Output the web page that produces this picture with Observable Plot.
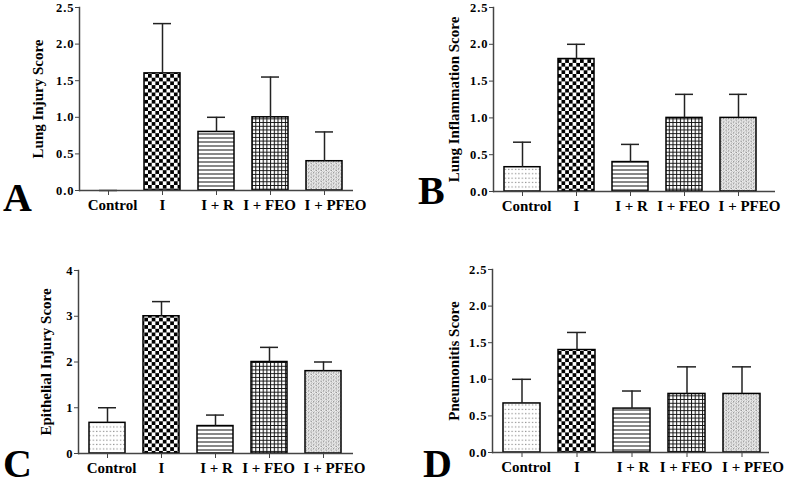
<!DOCTYPE html>
<html>
<head>
<meta charset="utf-8">
<script src="https://cdn.jsdelivr.net/npm/d3@7"></script>
<script src="https://cdn.jsdelivr.net/npm/@observablehq/plot@0.6"></script>
<style>
  body { margin: 0; background: #fff; width: 790px; height: 487px; position: relative; overflow: hidden; }
  .panel { position: absolute; }
  .letter { position: absolute; font: bold 40px/30px "Liberation Serif", "Times New Roman", serif; color: #000; height: 30px; }
  g[aria-label="y-axis tick label"] text { letter-spacing: 1px; }
  g[aria-label="y-axis label"], g[aria-label="y-axis label"] text { font-size: 15px; }
</style>
</head>
<body>
<svg width="0" height="0" style="position:absolute">
  <defs>
    <pattern id="pDots" patternUnits="userSpaceOnUse" width="3.4" height="4.4">
      <rect width="3.4" height="4.4" fill="#fff"/>
      <rect x="1" y="1.6" width="1.1" height="1.1" fill="#777"/>
    </pattern>
    <pattern id="pCheck" patternUnits="userSpaceOnUse" width="7.4" height="7.4">
      <rect width="7.4" height="7.4" fill="#fff"/>
      <rect width="3.7" height="3.7" fill="#000"/>
      <rect x="3.7" y="3.7" width="3.7" height="3.7" fill="#000"/>
    </pattern>
    <pattern id="pHLines" patternUnits="userSpaceOnUse" width="4" height="4">
      <rect width="4" height="4" fill="#fff"/>
      <rect y="1.5" width="4" height="1" fill="#111"/>
    </pattern>
    <pattern id="pGrid" patternUnits="userSpaceOnUse" width="3.7" height="3.7">
      <rect width="3.7" height="3.7" fill="#fff"/>
      <path d="M0 0.5H3.7M0.5 0V3.7" stroke="#111" stroke-width="1" fill="none"/>
    </pattern>
    <pattern id="pSpeckle" patternUnits="userSpaceOnUse" width="5" height="3.6">
      <rect width="5" height="3.6" fill="#f4f4f4"/>
      <path d="M0.3 0.5 L1.2 1.6 L2.1 0.5" stroke="#777" stroke-width="0.9" fill="none"/>
      <path d="M2.8 2.3 L3.7 3.3 L4.6 2.3" stroke="#777" stroke-width="0.9" fill="none"/>
      <rect x="3.3" y="0.3" width="0.9" height="0.9" fill="#888"/>
      <rect x="0.8" y="2.5" width="0.9" height="0.9" fill="#888"/>
    </pattern>
  </defs>
</svg>

<div id="pA" class="panel" style="left:0;top:0"></div>
<div id="pB" class="panel" style="left:395px;top:0"></div>
<div id="pC" class="panel" style="left:0;top:240px"></div>
<div id="pD" class="panel" style="left:395px;top:240px"></div>

<div class="letter" style="left:3px;top:183px">A</div>
<div class="letter" style="left:418px;top:176px">B</div>
<div class="letter" style="left:3px;top:449px">C</div>
<div class="letter" style="left:423px;top:449px">D</div>

<script>
// ---- data ----
const groups = ["Control", "I", "I + R", "I + FEO", "I + PFEO"];

const lungInjuryMean = [0, 1.6, 0.8, 1.0, 0.4];
const lungInjurySem  = [0, 0.68, 0.2, 0.55, 0.4];

const lungInflammationMean = [0.33, 1.8, 0.4, 1.0, 1.0];
const lungInflammationSem  = [0.34, 0.2, 0.24, 0.32, 0.32];

const epithelialInjuryMean = [0.67, 3.0, 0.6, 2.0, 1.8];
const epithelialInjurySem  = [0.33, 0.32, 0.24, 0.32, 0.2];

const pneumonitisMean = [0.67, 1.4, 0.6, 0.8, 0.8];
const pneumonitisSem  = [0.33, 0.24, 0.24, 0.37, 0.37];

const ticksHalf = [0, 0.5, 1.0, 1.5, 2.0, 2.5];
const ticksInt = [0, 1, 2, 3, 4];

const patternFills = ["url(#pDots)", "url(#pCheck)", "url(#pHLines)", "url(#pGrid)", "url(#pSpeckle)"];
// horizontal nudges of the category labels (as in the original figure)
const labelShift = [4, 0, 1, -1, 11];

function makePanel(el, o) {
  const data = groups.map((g, i) => ({group: g, mean: o.mean[i], sem: o.sem[i]}));
  const labelAxes = groups.map((g, i) =>
    Plot.axisX({ticks: [g], dx: labelShift[i], tickSize: 0, tickPadding: 9, fontSize: 15, label: null}));
  const chart = Plot.plot({
    width: 395,
    height: o.height,
    marginLeft: o.ml, marginRight: o.mr, marginTop: o.mt, marginBottom: o.mb,
    style: {fontFamily: '"Liberation Serif", "Times New Roman", serif', fontWeight: "bold", color: "#000", background: "transparent", overflow: "visible"},
    x: {domain: groups, range: o.xRange, paddingInner: 0.33, paddingOuter: 0.165, label: null},
    y: {domain: o.yDomain, label: o.label},
    color: {domain: groups, range: patternFills},
    marks: [
      Plot.barY(data, {x: "group", y: "mean", fill: "group", stroke: "#000", strokeWidth: 1.5}),
      Plot.ruleX(data, {x: "group", y1: "mean", y2: d => d.mean + d.sem, stroke: "#222", strokeWidth: 1.5}),
      Plot.tickY(data, {x: "group", y: d => d.mean + d.sem, stroke: "#222", strokeWidth: 1.5, insetLeft: 9, insetRight: 9}),
      Plot.ruleY([0], {stroke: "#444", strokeWidth: 1.5}),
      Plot.frame({anchor: "left", stroke: "#444", strokeWidth: 1.5}),
      Plot.axisY({ticks: o.yTicks, tickFormat: o.fmt, tickSize: 4, tickPadding: 1, fontSize: 12.5,
                  label: o.label, labelAnchor: "center", labelArrow: "none", labelOffset: o.labelOffset, stroke: "#444"}),
      Plot.axisX({tickSize: 5, tickFormat: () => "", label: null, stroke: "#444"}),
      ...labelAxes
    ]
  });
  document.getElementById(el).appendChild(chart);
}

const f1 = d3.format(".1f");
const f0 = d3.format("d");

makePanel("pA", {mean: lungInjuryMean, sem: lungInjurySem, height: 240, ml: 79, mr: 42, mt: 7, mb: 50,
  xRange: [79, 353], yDomain: [0, 2.5], yTicks: ticksHalf, fmt: f1, label: "Lung Injury Score", labelOffset: 47});
makePanel("pB", {mean: lungInflammationMean, sem: lungInflammationSem, height: 240, ml: 98, mr: 15, mt: 7, mb: 49,
  xRange: [98, 371.75], yDomain: [0, 2.5], yTicks: ticksHalf, fmt: f1, label: "Lung Inflammation Score", labelOffset: 45});
makePanel("pC", {mean: epithelialInjuryMean, sem: epithelialInjurySem, height: 247, ml: 78, mr: 42, mt: 30, mb: 34,
  xRange: [78, 352], yDomain: [0, 4], yTicks: ticksInt, fmt: f0, label: "Epithelial Injury Score", labelOffset: 38});
makePanel("pD", {mean: pneumonitisMean, sem: pneumonitisSem, height: 247, ml: 97, mr: 21, mt: 29, mb: 35,
  xRange: [99.2, 374.2], yDomain: [0, 2.5], yTicks: ticksHalf, fmt: f1, label: "Pneumonitis Score", labelOffset: 44});
</script>
</body>
</html>
